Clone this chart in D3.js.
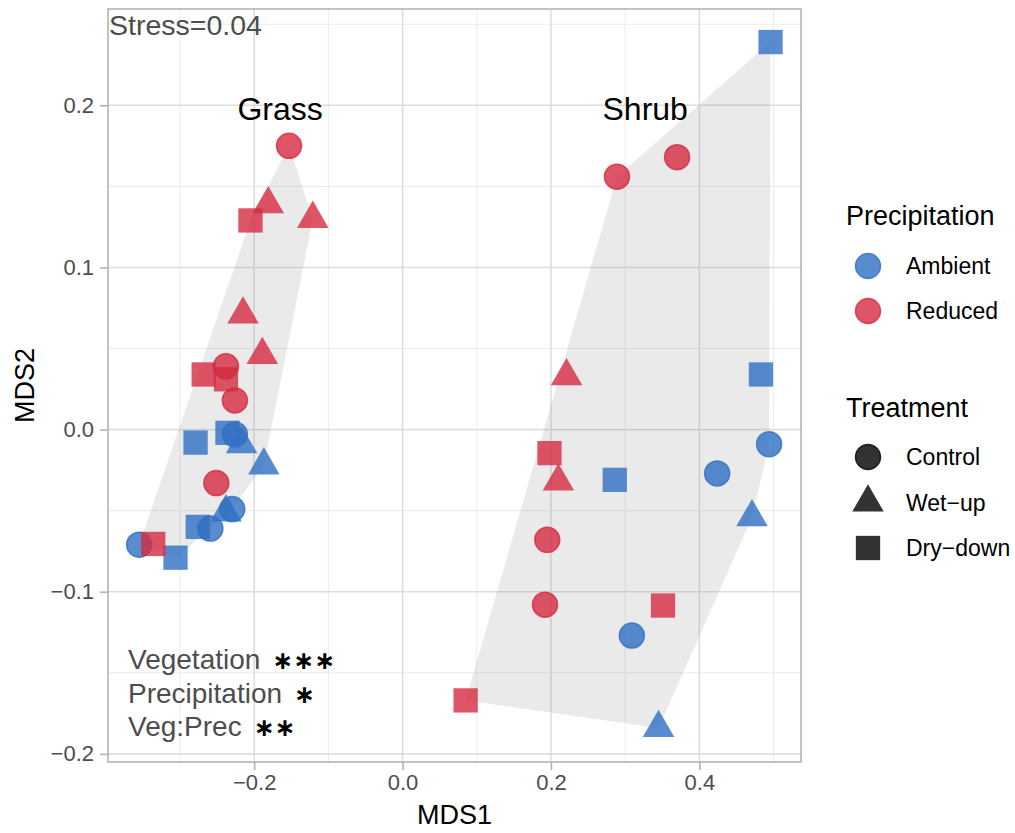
<!DOCTYPE html>
<html>
<head>
<meta charset="utf-8">
<script src="https://cdn.jsdelivr.net/npm/d3@7"></script>
<style>
  html, body { margin: 0; padding: 0; background: #fff; }
  svg { display: block; font-family: "Liberation Sans", Arial, Helvetica, sans-serif; }
</style>
</head>
<body>
<svg id="chart" width="1015" height="833"></svg>
<script>
// NMDS site scores, one entry per sample
const vegetation = [
  "Grass","Grass","Grass","Grass","Grass","Grass","Grass","Grass","Grass","Grass","Grass",
  "Grass","Grass","Grass","Grass","Grass","Grass","Grass","Grass","Grass","Grass","Grass","Grass",
  "Shrub","Shrub","Shrub","Shrub","Shrub","Shrub","Shrub","Shrub",
  "Shrub","Shrub","Shrub","Shrub","Shrub","Shrub","Shrub","Shrub","Shrub"
];
const precipitation = [
  "Ambient","Ambient","Ambient","Ambient","Ambient","Ambient","Ambient","Ambient","Ambient","Ambient","Ambient",
  "Reduced","Reduced","Reduced","Reduced","Reduced","Reduced","Reduced","Reduced","Reduced","Reduced","Reduced","Reduced",
  "Ambient","Ambient","Ambient","Ambient","Ambient","Ambient","Ambient","Ambient",
  "Reduced","Reduced","Reduced","Reduced","Reduced","Reduced","Reduced","Reduced","Reduced"
];
const treatment = [
  // grass, ambient
  "Dry-down","Wet-up","Control","Dry-down","Wet-up","Wet-up","Control","Dry-down","Control","Control","Dry-down",
  // grass, reduced
  "Control","Wet-up","Dry-down","Wet-up","Wet-up","Wet-up","Dry-down","Control","Dry-down","Control","Control","Dry-down",
  // shrub, ambient
  "Dry-down","Dry-down","Dry-down","Control","Control","Wet-up","Control","Wet-up",
  // shrub, reduced
  "Control","Control","Wet-up","Dry-down","Wet-up","Control","Control","Dry-down","Dry-down"
];
const mds1 = [
  -0.236, -0.217, -0.226, -0.279, -0.187, -0.238, -0.2295, -0.276, -0.259, -0.355, -0.306,
  -0.153, -0.181, -0.205, -0.121, -0.215, -0.189, -0.268, -0.238, -0.238, -0.226, -0.251, -0.336,
  0.496, 0.483, 0.286, 0.424, 0.494, 0.471, 0.309, 0.345,
  0.289, 0.370, 0.221, 0.198, 0.210, 0.195, 0.192, 0.351, 0.085
];
const mds2 = [
  -0.002, -0.009, -0.003, -0.008, -0.022, -0.051, -0.049, -0.060, -0.061, -0.071, -0.079,
  0.175, 0.139, 0.129, 0.130, 0.071, 0.046, 0.034, 0.039, 0.031, 0.018, -0.033, -0.0705,
  0.239, 0.034, -0.031, -0.027, -0.009, -0.054, -0.127, -0.184,
  0.156, 0.168, 0.033, -0.0145, -0.032, -0.068, -0.108, -0.1085, -0.167
];

const vegLabels = ["Grass", "Shrub"];
const vegLabelX = [-0.165, 0.327];
const vegLabelY = [0.2, 0.2];

const precipLevels = ["Ambient", "Reduced"];
const precipColors = ["#2f6fc2", "#d42a40"];
const treatLevels = ["Control", "Wet-up", "Dry-down"];
const treatNames = ["Control", "Wet\u2212up", "Dry\u2212down"];

const xTicks = [-0.2, 0.0, 0.2, 0.4];
const yTicks = [-0.2, -0.1, 0.0, 0.1, 0.2];
const xMinor = [-0.3, -0.1, 0.1, 0.3, 0.5];
const yMinor = [-0.15, -0.05, 0.05, 0.15, 0.25];

const stressText = "Stress=0.04";
const testTerms = ["Vegetation", "Precipitation", "Veg:Prec"];
const testStars = ["\u2217\u2217\u2217", "\u2217", "\u2217\u2217"];

// ---------------------------------------------------------------
const svg = d3.select("#chart");
const P = { left: 108, right: 801, top: 9, bottom: 762 };

const x = d3.scaleLinear().domain([-0.397, 0.537]).range([P.left, P.right]);
const y = d3.scaleLinear().domain([-0.205, 0.2594]).range([P.bottom, P.top]);
const color = d3.scaleOrdinal().domain(precipLevels).range(precipColors);

const samples = mds1.map((v, i) => ({
  veg: vegetation[i], precip: precipitation[i], treat: treatment[i], x: v, y: mds2[i]
}));

// marker geometry
const R_CIRC = 12.5, SQ = 24.3, R_TRI = 18.2;
function shapePath(kind, cx, cy) {
  if (kind === "Control") {
    return `M${cx - R_CIRC},${cy}a${R_CIRC},${R_CIRC} 0 1,0 ${2 * R_CIRC},0a${R_CIRC},${R_CIRC} 0 1,0 ${-2 * R_CIRC},0Z`;
  }
  if (kind === "Wet-up") {
    const hx = R_TRI * Math.sqrt(3) / 2, hy = R_TRI / 2;
    return `M${cx},${cy - R_TRI}L${cx + hx},${cy + hy}L${cx - hx},${cy + hy}Z`;
  }
  const h = SQ / 2;
  return `M${cx - h},${cy - h}h${SQ}v${SQ}h${-SQ}Z`;
}

// panel grid
const grid = svg.append("g");
grid.selectAll("line.xmin").data(xMinor.filter(v => x(v) < P.right)).join("line")
  .attr("x1", d => x(d)).attr("x2", d => x(d)).attr("y1", P.top).attr("y2", P.bottom)
  .attr("stroke", "#ebebeb").attr("stroke-width", 1);
grid.selectAll("line.ymin").data(yMinor.filter(v => y(v) > P.top)).join("line")
  .attr("y1", d => y(d)).attr("y2", d => y(d)).attr("x1", P.left).attr("x2", P.right)
  .attr("stroke", "#ebebeb").attr("stroke-width", 1);
grid.selectAll("line.xmaj").data(xTicks).join("line")
  .attr("x1", d => x(d)).attr("x2", d => x(d)).attr("y1", P.top).attr("y2", P.bottom)
  .attr("stroke", "#dedede").attr("stroke-width", 1.6);
grid.selectAll("line.ymaj").data(yTicks).join("line")
  .attr("y1", d => y(d)).attr("y2", d => y(d)).attr("x1", P.left).attr("x2", P.right)
  .attr("stroke", "#dedede").attr("stroke-width", 1.6);

// convex hulls per vegetation type
vegLabels.forEach(v => {
  const pts = samples.filter(d => d.veg === v).map(d => [x(d.x), y(d.y)]);
  const hull = d3.polygonHull(pts);
  svg.append("path")
    .attr("d", "M" + hull.join("L") + "Z")
    .attr("fill", "#7f7f7f").attr("fill-opacity", 0.16);
});

// points
svg.append("g").selectAll("path").data(samples).join("path")
  .attr("d", d => shapePath(d.treat, x(d.x), y(d.y)))
  .attr("fill", d => color(d.precip)).attr("fill-opacity", 0.8)
  .attr("stroke", d => d.treat === "Control" ? color(d.precip) : "none")
  .attr("stroke-opacity", 0.8).attr("stroke-width", 1.5);

// group labels
svg.append("g").selectAll("text").data(vegLabels).join("text")
  .attr("x", (d, i) => x(vegLabelX[i])).attr("y", (d, i) => y(vegLabelY[i]) + 15)
  .attr("text-anchor", "middle").attr("font-size", 32).attr("fill", "#000")
  .text(d => d);

// stress
svg.append("text").attr("x", P.left + 1).attr("y", 35)
  .attr("font-size", 28.5).attr("fill", "#4d4d4d").text(stressText);

// PERMANOVA terms with significance stars
const terms = svg.append("g");
testTerms.forEach((t, i) => {
  const tx = terms.append("text").attr("x", 128).attr("y", 669 + i * 33.7).attr("font-size", 28);
  tx.append("tspan").attr("fill", "#4d4d4d").text(t);
  tx.append("tspan").attr("fill", "#000").attr("dx", 12).attr("font-size", 25)
    .attr("font-family", "DejaVu Sans, sans-serif").attr("font-weight", "bold")
    .text(testStars[i]);
});

// panel border
svg.append("rect").attr("x", P.left).attr("y", P.top)
  .attr("width", P.right - P.left).attr("height", P.bottom - P.top)
  .attr("fill", "none").attr("stroke", "#b3b3b3").attr("stroke-width", 1.6);

// axes
const fmt = d3.format(".1f");
const xAxis = svg.append("g").attr("transform", `translate(0,${P.bottom})`)
  .call(d3.axisBottom(x).tickValues(xTicks).tickFormat(fmt).tickSize(8).tickPadding(4));
const yAxis = svg.append("g").attr("transform", `translate(${P.left},0)`)
  .call(d3.axisLeft(y).tickValues(yTicks).tickFormat(fmt).tickSize(8).tickPadding(6));
[xAxis, yAxis].forEach(a => {
  a.select(".domain").remove();
  a.selectAll(".tick line").attr("stroke", "#b3b3b3").attr("stroke-width", 1.6);
  a.selectAll(".tick text").attr("fill", "#4d4d4d").attr("font-size", 22)
    .attr("font-family", "Liberation Sans, Arial, sans-serif");
});

svg.append("text").attr("x", (P.left + P.right) / 2).attr("y", 824)
  .attr("text-anchor", "middle").attr("font-size", 27).text("MDS1");
svg.append("text").attr("transform", `translate(34,${(P.top + P.bottom) / 2}) rotate(-90)`)
  .attr("text-anchor", "middle").attr("font-size", 27).text("MDS2");

// legends
const lg = svg.append("g");
lg.append("text").attr("x", 846).attr("y", 225).attr("font-size", 27).text("Precipitation");
precipLevels.forEach((p, i) => {
  const cy = 266 + i * 45;
  lg.append("path").attr("d", shapePath("Control", 868, cy))
    .attr("fill", color(p)).attr("fill-opacity", 0.8)
    .attr("stroke", color(p)).attr("stroke-opacity", 0.8).attr("stroke-width", 1.5);
  lg.append("text").attr("x", 906).attr("y", cy + 8).attr("font-size", 23).text(p);
});
lg.append("text").attr("x", 846).attr("y", 417).attr("font-size", 27).text("Treatment");
treatLevels.forEach((t, i) => {
  const cy = 457 + i * 45.5;
  lg.append("path").attr("d", shapePath(t, 868, cy))
    .attr("fill", "#000").attr("fill-opacity", 0.8)
    .attr("stroke", t === "Control" ? "#000" : "none").attr("stroke-opacity", 0.8).attr("stroke-width", 1.5);
  lg.append("text").attr("x", 906).attr("y", cy + 8).attr("font-size", 23).text(treatNames[i]);
});
</script>
</body>
</html>
